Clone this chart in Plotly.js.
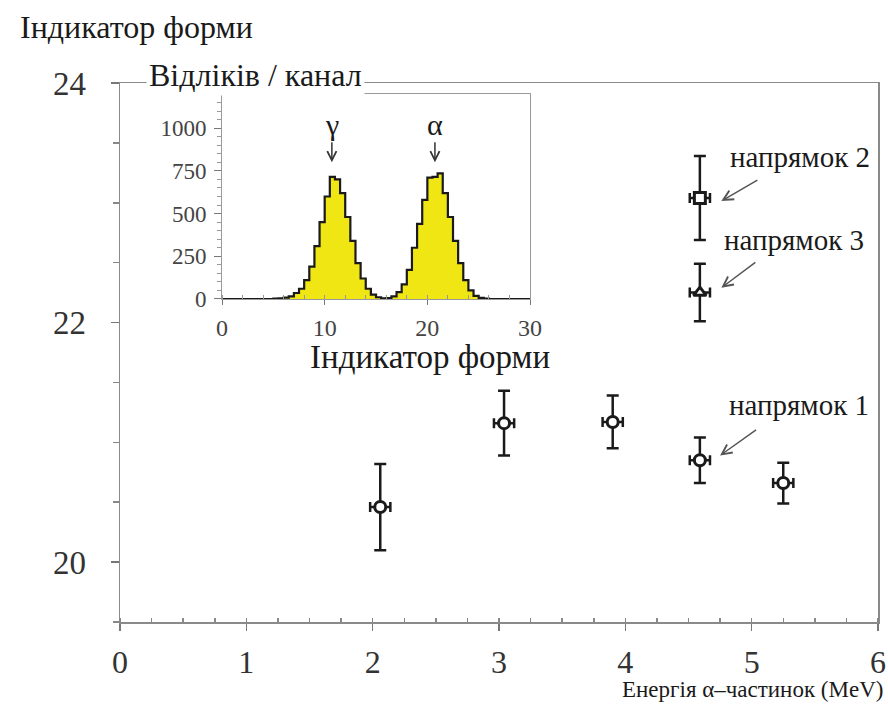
<!DOCTYPE html>
<html>
<head>
<meta charset="utf-8">
<script src="https://cdn.plot.ly/plotly-3.0.1.min.js"></script>
<style>html,body{margin:0;padding:0;background:#fff;}</style>
</head>
<body>
<div id="chart" style="width:888px;height:715px;"></div>
<script>
// ---- Main plot data: shape indicator vs alpha-particle energy ----
const energy      = [2.06, 3.04, 3.90, 4.59, 5.25];
const energyErr   = [0.08, 0.08, 0.08, 0.08, 0.08];
const shapeIdx    = [20.46, 21.16, 21.17, 20.85, 20.66];
const shapeErr    = [0.36, 0.27, 0.22, 0.19, 0.17];

const dir2Energy  = [4.59];
const dir2EnergyErr = [0.08];
const dir2Shape   = [23.04];
const dir2Err     = [0.35];

const dir3Energy  = [4.59];
const dir3EnergyErr = [0.08];
const dir3Shape   = [22.25];
const dir3Err     = [0.24];

// ---- Inset histogram: counts per channel (channel width 0.5, from 0 to 30) ----
const channelWidth = 0.5;
const counts = [
  0, 0, 0, 0, 0, 0, 0, 0, 0, 0,          // 0.0 - 5.0
  2, 4, 8, 15, 35, 60, 110, 190, 310, 450, // 5.0 - 10.0
  600, 715, 700, 620, 480, 340, 210, 120, 60, 25, // 10.0 - 15.0
  10, 4, 5, 15, 40, 85, 170, 300, 440, 580, // 15.0 - 20.0
  710, 715, 735, 620, 480, 340, 210, 110, 50, 18, // 20.0 - 25.0
  6, 2, 0, 0, 0, 0, 0, 0, 0, 0           // 25.0 - 30.0
];

const mainTicks   = [0, 1, 2, 3, 4, 5, 6];
const yTicks      = [20, 22, 24];
const insetXTicks = [0, 10, 20, 30];
const insetYTicks = [0, 250, 500, 750, 1000];

// step outline edges
const edges = counts.map((c, i) => i * channelWidth);
edges.push(counts.length * channelWidth);
const stepY = counts.slice();
stepY.push(counts[counts.length - 1]);

const ink = '#1a1a1a';
const serif = '"Liberation Serif", "Times New Roman", serif';

const markerBase = {color: '#ffffff', size: 11, line: {color: ink, width: 3}};

function errY(arr) { return {type: 'data', array: arr, visible: true, color: ink, thickness: 2.5, width: 6}; }
function errX(arr) { return {type: 'data', array: arr, visible: true, color: ink, thickness: 2.5, width: 5}; }

const traces = [
  {
    type: 'scatter', mode: 'markers', x: energy, y: shapeIdx,
    error_y: errY(shapeErr), error_x: errX(energyErr),
    marker: Object.assign({symbol: 'circle'}, markerBase),
    xaxis: 'x', yaxis: 'y', showlegend: false
  },
  {
    type: 'scatter', mode: 'markers', x: dir2Energy, y: dir2Shape,
    error_y: errY(dir2Err), error_x: errX(dir2EnergyErr),
    marker: Object.assign({symbol: 'square'}, markerBase),
    xaxis: 'x', yaxis: 'y', showlegend: false
  },
  {
    type: 'scatter', mode: 'markers', x: dir3Energy, y: dir3Shape,
    error_y: errY(dir3Err), error_x: errX(dir3EnergyErr),
    marker: Object.assign({symbol: 'triangle-up'}, markerBase),
    xaxis: 'x', yaxis: 'y', showlegend: false
  },
  {
    type: 'scatter', mode: 'lines', x: edges, y: stepY,
    line: {shape: 'hv', color: ink, width: 2.2},
    fill: 'tozeroy', fillcolor: '#f0e614',
    xaxis: 'x2', yaxis: 'y2', showlegend: false
  }
];

const axisCommon = {
  showline: true, linecolor: '#8a8a8a', linewidth: 1.5, mirror: true,
  showgrid: false, zeroline: false, tickcolor: '#777'
};

const layout = {
  width: 888, height: 715,
  margin: {l: 120, r: 10, t: 83, b: 93},
  paper_bgcolor: '#ffffff', plot_bgcolor: '#ffffff',
  showlegend: false,
  title: {
    text: 'Індикатор форми', xref: 'container', yref: 'container',
    x: 20 / 888, xanchor: 'left', y: 1 - 27 / 715, yanchor: 'middle',
    font: {family: serif, size: 32, color: ink}
  },
  xaxis: Object.assign({}, axisCommon, {
    range: [0, 6], tickmode: 'array', tickvals: mainTicks,
    ticks: 'outside', ticklen: 7, tickwidth: 1.5,
    ticklabelstandoff: 4,
    tickfont: {family: serif, size: 32, color: '#333'},
    minor: {dtick: 0.25, ticks: 'inside', ticklen: 4, tickcolor: '#888', showgrid: false}
  }),
  yaxis: Object.assign({}, axisCommon, {
    range: [19.5, 24], tickmode: 'array', tickvals: yTicks,
    ticks: 'outside', ticklen: 8, tickwidth: 1.5,
    ticklabelstandoff: 18,
    tickfont: {family: serif, size: 33, color: '#333'},
    minor: {dtick: 0.5, ticks: 'outside', ticklen: 6, tickcolor: '#888', showgrid: false}
  }),
  xaxis2: Object.assign({}, axisCommon, {
    domain: [0.1346, 0.5409], anchor: 'y2', range: [0, 30],
    tickmode: 'array', tickvals: insetXTicks,
    ticks: 'outside', ticklen: 5, linecolor: '#999', linewidth: 1,
    ticklabelstandoff: 2,
    tickfont: {family: serif, size: 24, color: '#444'},
    minor: {dtick: 2, ticks: 'inside', ticklen: 4, tickcolor: '#999', showgrid: false}
  }),
  yaxis2: Object.assign({}, axisCommon, {
    domain: [0.5993, 0.9796], anchor: 'x2', range: [0, 1200],
    tickmode: 'array', tickvals: insetYTicks,
    ticks: 'outside', ticklen: 7, linecolor: '#999', linewidth: 1,
    ticklabelstandoff: 3,
    tickfont: {family: serif, size: 23, color: '#444'},
    minor: {dtick: 50, ticks: 'outside', ticklen: 4, tickcolor: '#999', showgrid: false}
  }),
  annotations: [
    {text: 'Відліків / канал', xref: 'paper', yref: 'paper', x: 0.034, y: 1.0148,
     xanchor: 'left', yanchor: 'middle', showarrow: false, bgcolor: '#ffffff', borderpad: 2,
     font: {family: serif, size: 32, color: ink}},
    {text: 'Індикатор форми', xref: 'paper', yref: 'paper', x: 0.409, y: 0.492,
     xanchor: 'center', yanchor: 'middle', showarrow: false,
     font: {family: serif, size: 33, color: ink}},
    {text: 'Енергія α–частинок (MeV)', xref: 'paper', yref: 'paper', x: 1.0092, y: -0.126,
     xanchor: 'right', yanchor: 'middle', showarrow: false,
     font: {family: serif, size: 23, color: ink}},
    {text: 'γ', xref: 'x2', yref: 'y2', x: 10.7, y: 800, ax: 0, ay: -38,
     showarrow: true, arrowhead: 5, arrowsize: 1.2, arrowwidth: 1.5, arrowcolor: '#333',
     font: {family: serif, size: 30, color: ink}},
    {text: 'α', xref: 'x2', yref: 'y2', x: 20.74, y: 800, ax: 0, ay: -38,
     showarrow: true, arrowhead: 5, arrowsize: 1.2, arrowwidth: 1.5, arrowcolor: '#333',
     font: {family: serif, size: 30, color: ink}},
    {text: 'напрямок 2', xref: 'paper', yref: 'paper', x: 0.802, y: 0.8627,
     xanchor: 'left', yanchor: 'middle', showarrow: false,
     font: {family: serif, size: 29, color: ink}},
    {text: 'напрямок 3', xref: 'paper', yref: 'paper', x: 0.794, y: 0.7087,
     xanchor: 'left', yanchor: 'middle', showarrow: false,
     font: {family: serif, size: 29, color: ink}},
    {text: 'напрямок 1', xref: 'paper', yref: 'paper', x: 0.8008, y: 0.4026,
     xanchor: 'left', yanchor: 'middle', showarrow: false,
     font: {family: serif, size: 29, color: ink}},
    {text: ' ', xref: 'x', yref: 'y', x: dir2Energy[0] + 0.17, y: dir2Shape[0] - 0.025, ax: 38, ay: -22,
     showarrow: true, arrowhead: 5, arrowsize: 1.3, arrowwidth: 1.5, arrowcolor: '#555', font: {size: 2}},
    {text: ' ', xref: 'x', yref: 'y', x: dir3Energy[0] + 0.17, y: dir3Shape[0] + 0.04, ax: 36, ay: -27,
     showarrow: true, arrowhead: 5, arrowsize: 1.3, arrowwidth: 1.5, arrowcolor: '#555', font: {size: 2}},
    {text: ' ', xref: 'x', yref: 'y', x: energy[3] + 0.16, y: shapeIdx[3] + 0.04, ax: 38, ay: -27,
     showarrow: true, arrowhead: 5, arrowsize: 1.3, arrowwidth: 1.5, arrowcolor: '#555', font: {size: 2}}
  ]
};

Plotly.newPlot('chart', traces, layout, {staticPlot: true, displayModeBar: false});
</script>
</body>
</html>
